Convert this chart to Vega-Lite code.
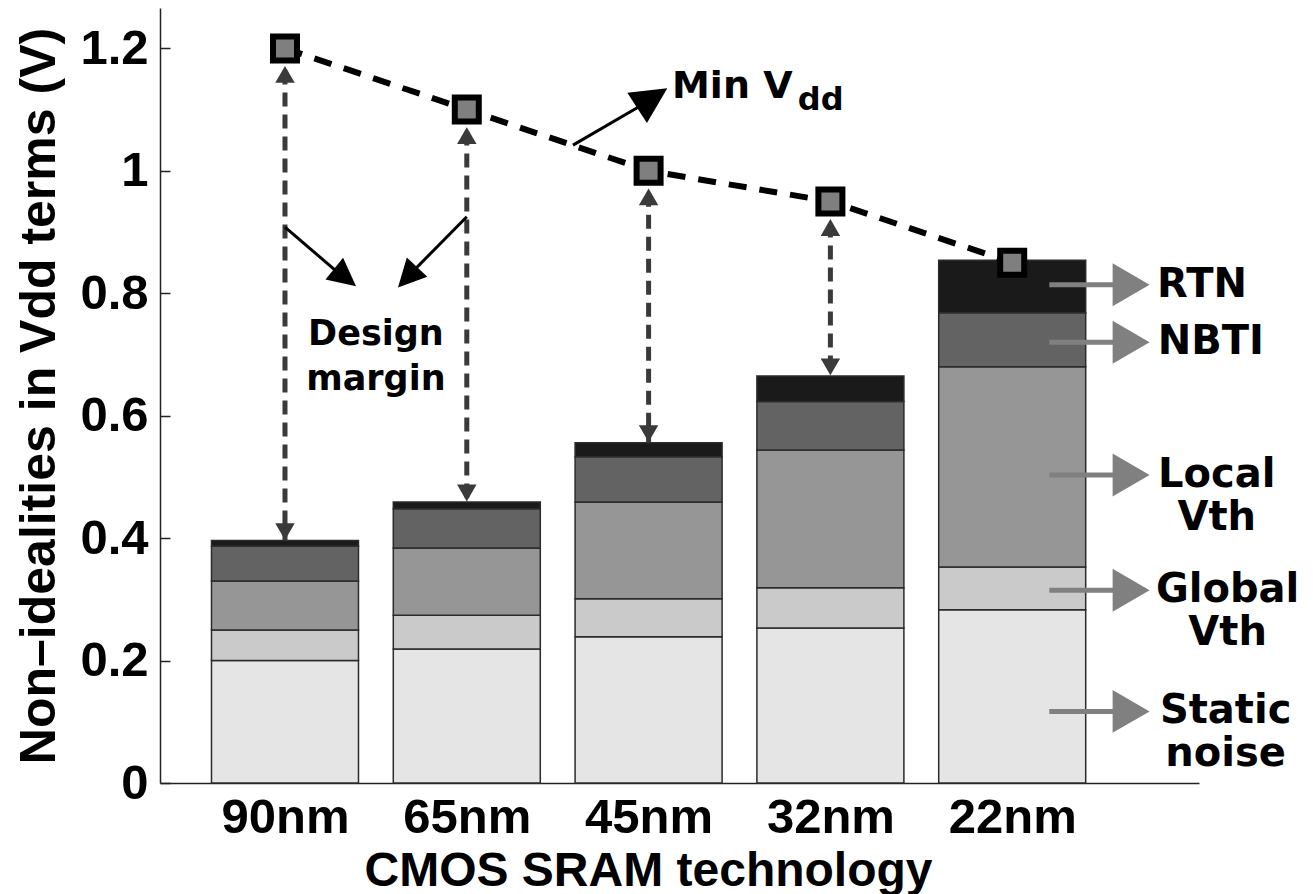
{
  "$schema": "https://vega.github.io/schema/vega-lite/v6.json",
  "width": 1039,
  "height": 775,
  "autosize": {"type": "none"},
  "padding": {"left": 160, "top": 8, "right": 114, "bottom": 111},
  "background": "white",
  "config": {"view": {"stroke": null}},
  "datasets": {
    "bars": [
      {"tech": "90nm", "i": 0, "component": "Static noise", "ord": 1, "value": 0.200},
      {"tech": "90nm", "i": 0, "component": "Global Vth", "ord": 2, "value": 0.050},
      {"tech": "90nm", "i": 0, "component": "Local Vth", "ord": 3, "value": 0.080},
      {"tech": "90nm", "i": 0, "component": "NBTI", "ord": 4, "value": 0.057},
      {"tech": "90nm", "i": 0, "component": "RTN", "ord": 5, "value": 0.009},
      {"tech": "65nm", "i": 1, "component": "Static noise", "ord": 1, "value": 0.219},
      {"tech": "65nm", "i": 1, "component": "Global Vth", "ord": 2, "value": 0.055},
      {"tech": "65nm", "i": 1, "component": "Local Vth", "ord": 3, "value": 0.110},
      {"tech": "65nm", "i": 1, "component": "NBTI", "ord": 4, "value": 0.064},
      {"tech": "65nm", "i": 1, "component": "RTN", "ord": 5, "value": 0.011},
      {"tech": "45nm", "i": 2, "component": "Static noise", "ord": 1, "value": 0.239},
      {"tech": "45nm", "i": 2, "component": "Global Vth", "ord": 2, "value": 0.062},
      {"tech": "45nm", "i": 2, "component": "Local Vth", "ord": 3, "value": 0.158},
      {"tech": "45nm", "i": 2, "component": "NBTI", "ord": 4, "value": 0.074},
      {"tech": "45nm", "i": 2, "component": "RTN", "ord": 5, "value": 0.023},
      {"tech": "32nm", "i": 3, "component": "Static noise", "ord": 1, "value": 0.253},
      {"tech": "32nm", "i": 3, "component": "Global Vth", "ord": 2, "value": 0.066},
      {"tech": "32nm", "i": 3, "component": "Local Vth", "ord": 3, "value": 0.225},
      {"tech": "32nm", "i": 3, "component": "NBTI", "ord": 4, "value": 0.079},
      {"tech": "32nm", "i": 3, "component": "RTN", "ord": 5, "value": 0.042},
      {"tech": "22nm", "i": 4, "component": "Static noise", "ord": 1, "value": 0.283},
      {"tech": "22nm", "i": 4, "component": "Global Vth", "ord": 2, "value": 0.070},
      {"tech": "22nm", "i": 4, "component": "Local Vth", "ord": 3, "value": 0.327},
      {"tech": "22nm", "i": 4, "component": "NBTI", "ord": 4, "value": 0.088},
      {"tech": "22nm", "i": 4, "component": "RTN", "ord": 5, "value": 0.086}
    ],
    "vdd": [
      {"tech": "90nm", "i": 0, "vdd": 1.2, "top": 0.396},
      {"tech": "65nm", "i": 1, "vdd": 1.1, "top": 0.459},
      {"tech": "45nm", "i": 2, "vdd": 1.0, "top": 0.556},
      {"tech": "32nm", "i": 3, "vdd": 0.95, "top": 0.665},
      {"tech": "22nm", "i": 4, "vdd": 0.85, "top": 0.854}
    ],
    "labels": [
      {"label": "RTN", "ay": 0.814, "lx": 5.044},
      {"label": "NBTI", "ay": 0.720, "lx": 5.093},
      {"label": "Local\nVth", "ay": 0.503, "lx": 5.125},
      {"label": "Global\nVth", "ay": 0.315, "lx": 5.185},
      {"label": "Static\nnoise", "ay": 0.117, "lx": 5.174}
    ],
    "one": [{}]
  },
  "layer": [
    {
      "data": {"name": "bars"},
      "mark": {"type": "bar", "size": 147, "orient": "vertical", "stroke": "#2b2b2b", "strokeWidth": 1.5},
      "encoding": {
        "x": {"field": "i", "type": "quantitative", "title": "CMOS SRAM technology", "scale": {"domain": [-0.66, 5.0], "nice": false, "zero": false},
          "axis": {"values": [0, 1, 2, 3, 4], "labelExpr": "['90nm','65nm','45nm','32nm','22nm'][datum.value]", "ticks": false, "grid": false,
            "domainColor": "#222", "domainWidth": 1.5, "labelFont": "Liberation Sans", "labelFontWeight": "bold", "labelFontSize": 49, "labelColor": "#000", "labelPadding": 10,
            "titleFont": "Liberation Sans", "titleFontWeight": "bold", "titleFontSize": 48, "titleColor": "#000",
            "titleX": 488, "titleY": 102, "titleAlign": "center", "titleBaseline": "alphabetic"}},
        "y": {"field": "value", "type": "quantitative", "title": "Non–idealities in Vdd terms (V)", "stack": "zero", "scale": {"domain": [0, 1.266], "nice": false, "zero": false},
          "axis": {"values": [0, 0.2, 0.4, 0.6, 0.8, 1, 1.2], "format": "~g", "grid": false, "tickSize": -10, "tickColor": "#222", "tickWidth": 1.5,
            "domainColor": "#222", "domainWidth": 1.5, "labelFont": "Liberation Sans", "labelFontWeight": "bold", "labelFontSize": 49, "labelColor": "#000", "labelPadding": 22,
            "titleFont": "Liberation Sans", "titleFontWeight": "bold", "titleFontSize": 50, "titleColor": "#000",
            "titleAngle": -90, "titleX": -106, "titleY": 387.5, "titleAlign": "center", "titleBaseline": "alphabetic"}},
        "color": {"field": "component", "type": "nominal",
          "scale": {"domain": ["Static noise", "Global Vth", "Local Vth", "NBTI", "RTN"], "range": ["#e5e5e5", "#cacaca", "#969696", "#636363", "#1a1a1a"]},
          "legend": null},
        "order": {"field": "ord", "type": "quantitative"}
      }
    },
    {
      "data": {"name": "vdd"},
      "mark": {"type": "line", "color": "#000", "strokeWidth": 6, "strokeDash": [18, 13]},
      "encoding": {
        "x": {"field": "i", "type": "quantitative", "title": "CMOS SRAM technology"},
        "y": {"field": "vdd", "type": "quantitative", "title": "Non–idealities in Vdd terms (V)"}
      }
    },
    {
      "data": {"name": "vdd"},
      "transform": [{"filter": "datum.i < 4"}],
      "mark": {"type": "rule", "color": "#3a3a3a", "strokeWidth": 5, "strokeDash": [14, 8]},
      "encoding": {
        "x": {"field": "i", "type": "quantitative", "title": "CMOS SRAM technology"},
        "y": {"field": "vdd", "type": "quantitative", "title": "Non–idealities in Vdd terms (V)"},
        "y2": {"field": "top"}
      }
    },
    {
      "data": {"name": "vdd"},
      "transform": [{"filter": "datum.i < 4"}],
      "mark": {"type": "point", "shape": "triangle-up", "size": 380, "filled": true, "color": "#3a3a3a", "opacity": 1, "strokeWidth": 0, "yOffset": 26},
      "encoding": {
        "x": {"field": "i", "type": "quantitative", "title": "CMOS SRAM technology"},
        "y": {"field": "vdd", "type": "quantitative", "title": "Non–idealities in Vdd terms (V)"}
      }
    },
    {
      "data": {"name": "vdd"},
      "transform": [{"filter": "datum.i < 4"}],
      "mark": {"type": "point", "shape": "triangle-down", "size": 380, "filled": true, "color": "#3a3a3a", "opacity": 1, "strokeWidth": 0, "yOffset": -9},
      "encoding": {
        "x": {"field": "i", "type": "quantitative", "title": "CMOS SRAM technology"},
        "y": {"field": "top", "type": "quantitative", "title": "Non–idealities in Vdd terms (V)"}
      }
    },
    {
      "data": {"name": "vdd"},
      "mark": {"type": "point", "shape": "square", "size": 576, "filled": true, "color": "#7f7f7f", "opacity": 1, "stroke": "#000", "strokeWidth": 6},
      "encoding": {
        "x": {"field": "i", "type": "quantitative", "title": "CMOS SRAM technology"},
        "y": {"field": "vdd", "type": "quantitative", "title": "Non–idealities in Vdd terms (V)"}
      }
    },
    {
      "data": {"name": "one"},
      "mark": {"type": "rule", "color": "#000", "strokeWidth": 3},
      "encoding": {
        "x": {"datum": 1.584, "type": "quantitative", "title": "CMOS SRAM technology"},
        "x2": {"datum": 1.954},
        "y": {"datum": 1.042, "type": "quantitative", "title": "Non–idealities in Vdd terms (V)"},
        "y2": {"datum": 1.106}
      }
    },
    {
      "data": {"name": "one"},
      "mark": {"type": "rule", "color": "#000", "strokeWidth": 3},
      "encoding": {
        "x": {"datum": 0, "type": "quantitative", "title": "CMOS SRAM technology"},
        "x2": {"datum": 0.287},
        "y": {"datum": 0.908, "type": "quantitative", "title": "Non–idealities in Vdd terms (V)"},
        "y2": {"datum": 0.835}
      }
    },
    {
      "data": {"name": "one"},
      "mark": {"type": "rule", "color": "#000", "strokeWidth": 3},
      "encoding": {
        "x": {"datum": 1, "type": "quantitative", "title": "CMOS SRAM technology"},
        "x2": {"datum": 0.701},
        "y": {"datum": 0.925, "type": "quantitative", "title": "Non–idealities in Vdd terms (V)"},
        "y2": {"datum": 0.835}
      }
    },
    {
      "data": {"name": "one"},
      "mark": {"type": "point", "shape": "M0,-1L1,1L-1,1Z", "size": 1296, "angle": 57, "filled": true, "color": "#000", "opacity": 1, "strokeWidth": 0},
      "encoding": {
        "x": {"datum": 2.020, "type": "quantitative", "title": "CMOS SRAM technology"},
        "y": {"datum": 1.119, "type": "quantitative", "title": "Non–idealities in Vdd terms (V)"}
      }
    },
    {
      "data": {"name": "one"},
      "mark": {"type": "point", "shape": "M0,-1L1,1L-1,1Z", "size": 784, "angle": 129, "filled": true, "color": "#000", "opacity": 1, "strokeWidth": 0},
      "encoding": {
        "x": {"datum": 0.331, "type": "quantitative", "title": "CMOS SRAM technology"},
        "y": {"datum": 0.826, "type": "quantitative", "title": "Non–idealities in Vdd terms (V)"}
      }
    },
    {
      "data": {"name": "one"},
      "mark": {"type": "point", "shape": "M0,-1L1,1L-1,1Z", "size": 784, "angle": 223, "filled": true, "color": "#000", "opacity": 1, "strokeWidth": 0},
      "encoding": {
        "x": {"datum": 0.674, "type": "quantitative", "title": "CMOS SRAM technology"},
        "y": {"datum": 0.826, "type": "quantitative", "title": "Non–idealities in Vdd terms (V)"}
      }
    },
    {
      "data": {"name": "labels"},
      "mark": {"type": "rule", "color": "#808080", "strokeWidth": 5},
      "encoding": {
        "x": {"datum": 4.204, "type": "quantitative", "title": "CMOS SRAM technology"},
        "x2": {"datum": 4.569},
        "y": {"field": "ay", "type": "quantitative", "title": "Non–idealities in Vdd terms (V)"}
      }
    },
    {
      "data": {"name": "labels"},
      "mark": {"type": "point", "shape": "M-1,-1.16L1,0L-1,1.16Z", "size": 1369, "filled": true, "color": "#808080", "opacity": 1, "strokeWidth": 0},
      "encoding": {
        "x": {"datum": 4.654, "type": "quantitative", "title": "CMOS SRAM technology"},
        "y": {"field": "ay", "type": "quantitative", "title": "Non–idealities in Vdd terms (V)"}
      }
    },
    {
      "data": {"name": "labels"},
      "mark": {"type": "text", "font": "DejaVu Sans", "fontWeight": "bold", "fontSize": 40, "color": "#000", "align": "center", "baseline": "middle", "lineBreak": "\n", "lineHeight": 43},
      "encoding": {
        "x": {"field": "lx", "type": "quantitative", "title": "CMOS SRAM technology"},
        "y": {"field": "ay", "type": "quantitative", "title": "Non–idealities in Vdd terms (V)"},
        "text": {"field": "label"}
      }
    },
    {
      "data": {"name": "one"},
      "mark": {"type": "text", "text": "Design\nmargin", "font": "DejaVu Sans", "fontWeight": "bold", "fontSize": 35, "color": "#000", "align": "center", "baseline": "middle", "lineBreak": "\n", "lineHeight": 45},
      "encoding": {
        "x": {"datum": 0.5, "type": "quantitative", "title": "CMOS SRAM technology"},
        "y": {"datum": 0.734, "type": "quantitative", "title": "Non–idealities in Vdd terms (V)"}
      }
    },
    {
      "data": {"name": "one"},
      "mark": {"type": "text", "text": "Min V", "font": "DejaVu Sans", "fontWeight": "bold", "fontSize": 38, "color": "#000", "align": "left", "baseline": "alphabetic"},
      "encoding": {
        "x": {"datum": 2.129, "type": "quantitative", "title": "CMOS SRAM technology"},
        "y": {"datum": 1.119, "type": "quantitative", "title": "Non–idealities in Vdd terms (V)"}
      }
    },
    {
      "data": {"name": "one"},
      "mark": {"type": "text", "text": "dd", "font": "DejaVu Sans", "fontWeight": "bold", "fontSize": 32, "color": "#000", "align": "left", "baseline": "alphabetic"},
      "encoding": {
        "x": {"datum": 2.821, "type": "quantitative", "title": "CMOS SRAM technology"},
        "y": {"datum": 1.100, "type": "quantitative", "title": "Non–idealities in Vdd terms (V)"}
      }
    }
  ]
}
